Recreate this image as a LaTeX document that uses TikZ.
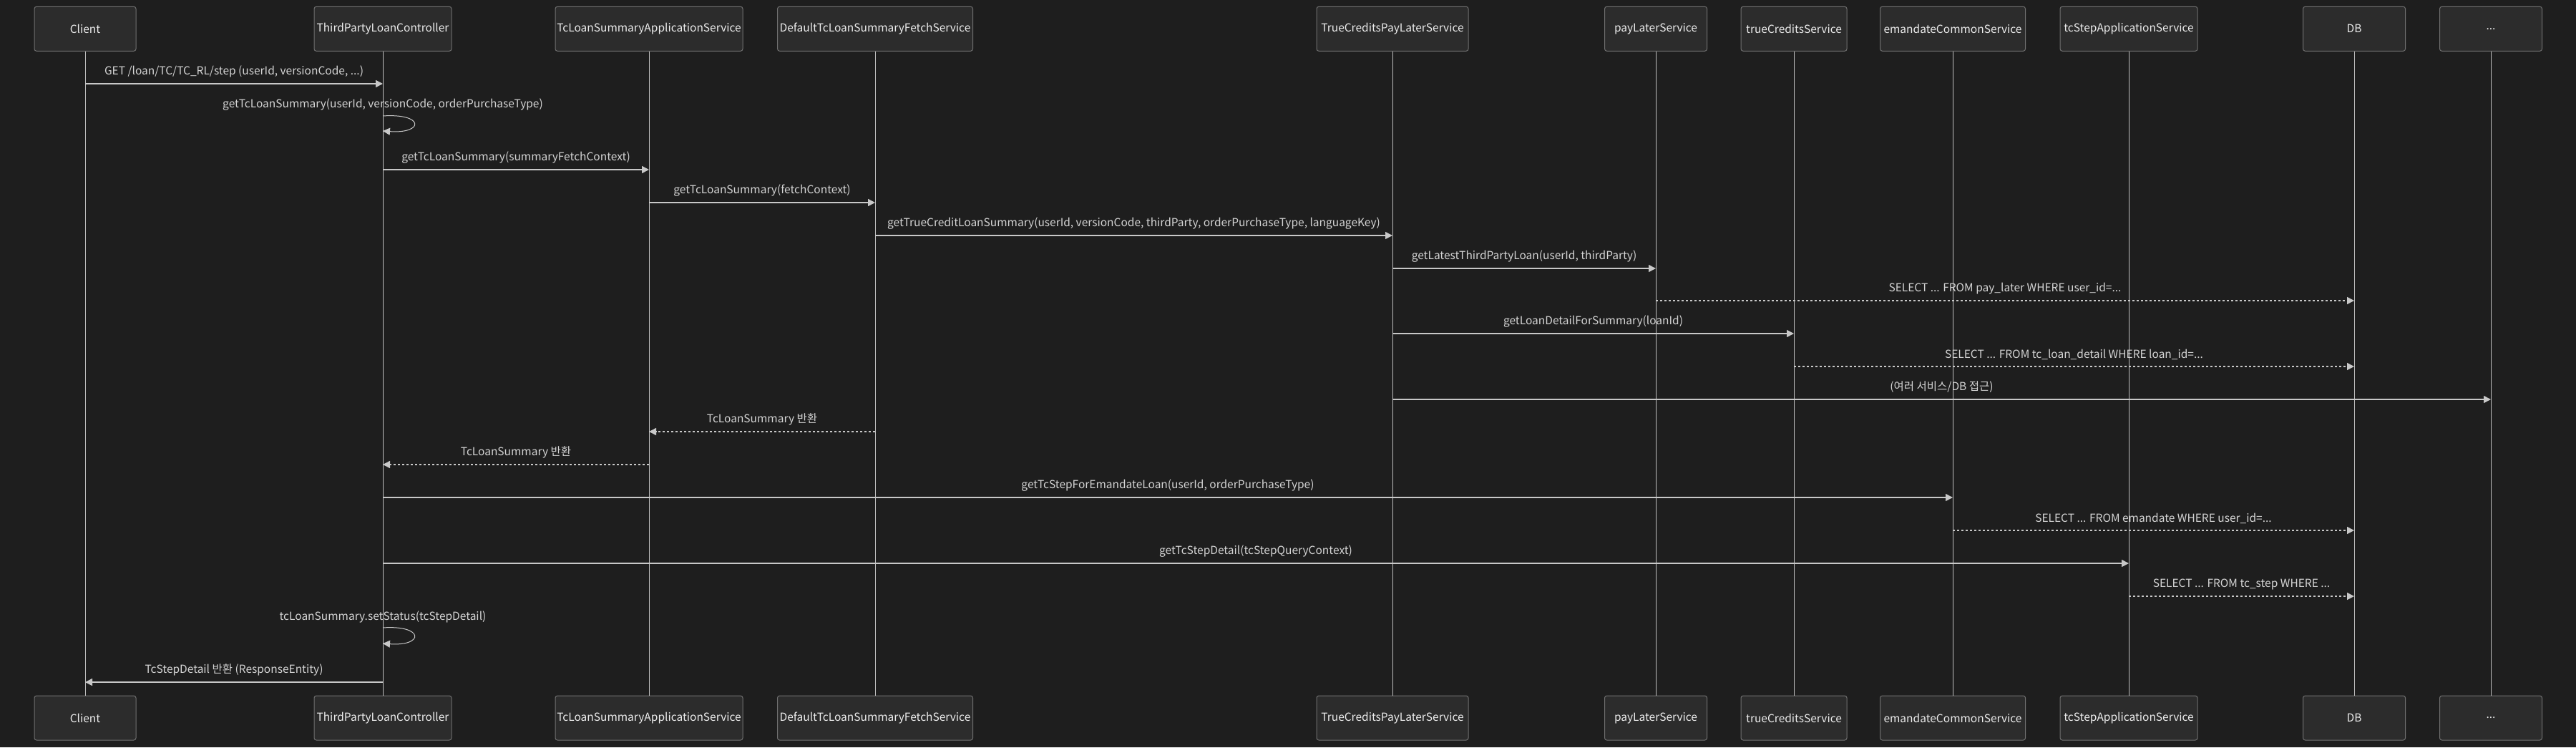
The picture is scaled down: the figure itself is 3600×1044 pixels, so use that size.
\documentclass[tikz,border=0pt]{standalone}
\usepackage{fontspec}
\setmainfont{Noto Sans CJK KR}
\usetikzlibrary{arrows.meta,calc}
\definecolor{bgc}{HTML}{1E1E1E}
\definecolor{boxfill}{HTML}{2C2C2C}
\definecolor{boxline}{HTML}{707070}
\definecolor{lifec}{HTML}{BDBDBD}
\definecolor{msgc}{HTML}{C8C8C8}
\definecolor{txtc}{HTML}{D4D4D4}
\definecolor{boxtxt}{HTML}{ECECEC}
\tikzset{
  actor/.style={draw=boxline, line width=1pt, fill=boxfill, rounded corners=3pt,
    minimum height=62pt, inner sep=0pt, text=boxtxt, font=\fontsize{15.5}{18}\selectfont},
  life/.style={draw=lifec, line width=1pt},
  msg/.style={draw=msgc, line width=1.5pt, -{Triangle[length=10pt,width=10pt]}},
  reply/.style={msg, dash pattern=on 3pt off 3pt},
  selfmsg/.style={draw=msgc, line width=1pt, -{Triangle[length=10pt,width=10pt]}},
  lbl/.style={text=txtc, font=\fontsize{15.5}{18}\selectfont, inner sep=0pt, anchor=center}
}
\begin{document}
\begin{tikzpicture}[x=1pt,y=-1pt]
\fill[bgc] (0,0) rectangle (3600,1044);
\useasboundingbox (0,0) rectangle (3600,1044);
% top actors
\node[actor, minimum width=142pt] (cT) at (119,40.3) {Client};
\node[actor, minimum width=192pt] (tT) at (535,40.3) {ThirdPartyLoanController};
\node[actor, minimum width=262pt] (aT) at (907,40.3) {TcLoanSummaryApplicationService};
\node[actor, minimum width=273pt] (dT) at (1223,40.3) {DefaultTcLoanSummaryFetchService};
\node[actor, minimum width=212pt] (pT) at (1946,40.3) {TrueCreditsPayLaterService};
\node[actor, minimum width=143pt] (lT) at (2314,40.3) {payLaterService};
\node[actor, minimum width=148pt] (rT) at (2507,40.3) {trueCreditsService};
\node[actor, minimum width=203pt] (eT) at (2729,40.3) {emandateCommonService};
\node[actor, minimum width=192pt] (sT) at (2975,40.3) {tcStepApplicationService};
\node[actor, minimum width=143pt] (bT) at (3290,40.3) {DB};
\node[actor, minimum width=143pt] (xT) at (3481,40.3) {...};
% bottom actors
\node[actor, minimum width=142pt] (cB) at (119,1003) {Client};
\node[actor, minimum width=192pt] (tB) at (535,1003) {ThirdPartyLoanController};
\node[actor, minimum width=262pt] (aB) at (907,1003) {TcLoanSummaryApplicationService};
\node[actor, minimum width=273pt] (dB) at (1223,1003) {DefaultTcLoanSummaryFetchService};
\node[actor, minimum width=212pt] (pB) at (1946,1003) {TrueCreditsPayLaterService};
\node[actor, minimum width=143pt] (lB) at (2314,1003) {payLaterService};
\node[actor, minimum width=148pt] (rB) at (2507,1003) {trueCreditsService};
\node[actor, minimum width=203pt] (eB) at (2729,1003) {emandateCommonService};
\node[actor, minimum width=192pt] (sB) at (2975,1003) {tcStepApplicationService};
\node[actor, minimum width=143pt] (bB) at (3290,1003) {DB};
\node[actor, minimum width=143pt] (xB) at (3481,1003) {...};
% lifelines
\foreach \n in {c,t,a,d,p,l,r,e,s,b,x}{
  \draw[life] (\n T.south) -- (\n B.north);
}
% messages
\draw[msg] (cT |- 0,117) -- node[lbl, yshift=17pt] {GET /loan/TC/TC\_RL/step (userId, versionCode, ...)} (tT |- 0,117);
\node[lbl] (s1) at (tT |- 0,146) {getTcLoanSummary(userId, versionCode, orderPurchaseType)};
\draw[selfmsg] (tT |- 0,162) .. controls ($(tT |- 0,158)+(58,0)$) and ($(tT |- 0,187)+(58,0)$) .. (tT |- 0,183);
\draw[msg] (tT |- 0,237) -- node[lbl, yshift=17pt] {getTcLoanSummary(summaryFetchContext)} (aT |- 0,237);
\draw[msg] (aT |- 0,283) -- node[lbl, yshift=17pt] {getTcLoanSummary(fetchContext)} (dT |- 0,283);
\draw[msg] (dT |- 0,329) -- node[lbl, yshift=17pt] {getTrueCreditLoanSummary(userId, versionCode, thirdParty, orderPurchaseType, languageKey)} (pT |- 0,329);
\draw[msg] (pT |- 0,375) -- node[lbl, yshift=17pt] {getLatestThirdPartyLoan(userId, thirdParty)} (lT |- 0,375);
\draw[reply] (lT |- 0,420) -- node[lbl, yshift=17pt] {SELECT ... FROM pay\_later WHERE user\_id=...} (bT |- 0,420);
\draw[msg] (pT |- 0,466) -- node[lbl, yshift=17pt] {getLoanDetailForSummary(loanId)} (rT |- 0,466);
\draw[reply] (rT |- 0,512) -- node[lbl, yshift=17pt] {SELECT ... FROM tc\_loan\_detail WHERE loan\_id=...} (bT |- 0,512);
\draw[msg] (pT |- 0,558) -- node[lbl, yshift=17pt] {(여러 서비스/DB 접근)} (xT |- 0,558);
\draw[reply] (dT |- 0,603) -- node[lbl, yshift=17pt] {TcLoanSummary 반환} (aT |- 0,603);
\draw[reply] (aT |- 0,649) -- node[lbl, yshift=17pt] {TcLoanSummary 반환} (tT |- 0,649);
\draw[msg] (tT |- 0,695) -- node[lbl, yshift=17pt] {getTcStepForEmandateLoan(userId, orderPurchaseType)} (eT |- 0,695);
\draw[reply] (eT |- 0,741) -- node[lbl, yshift=17pt] {SELECT ... FROM emandate WHERE user\_id=...} (bT |- 0,741);
\draw[msg] (tT |- 0,787) -- node[lbl, yshift=17pt] {getTcStepDetail(tcStepQueryContext)} (sT |- 0,787);
\draw[reply] (sT |- 0,833) -- node[lbl, yshift=17pt] {SELECT ... FROM tc\_step WHERE ...} (bT |- 0,833);
\node[lbl] (s2) at (tT |- 0,862) {tcLoanSummary.setStatus(tcStepDetail)};
\draw[selfmsg] (tT |- 0,877) .. controls ($(tT |- 0,873)+(58,0)$) and ($(tT |- 0,903)+(58,0)$) .. (tT |- 0,899);
\draw[msg] (tT |- 0,953) -- node[lbl, yshift=17pt] {TcStepDetail 반환 (ResponseEntity)} (cT |- 0,953);
\end{tikzpicture}
\end{document}
